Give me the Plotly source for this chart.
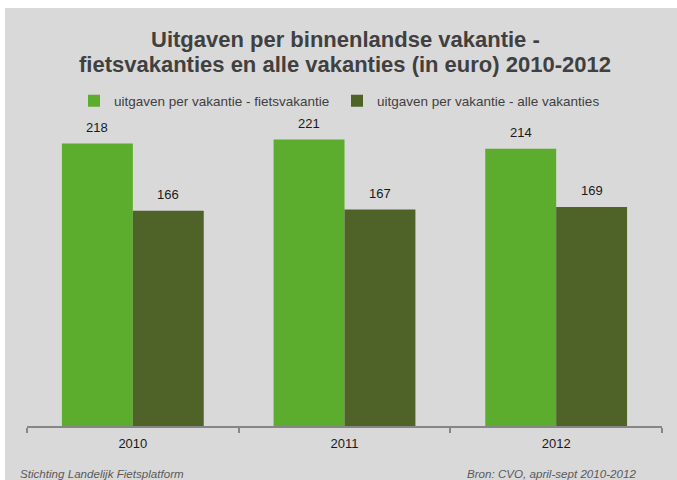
import plotly.graph_objects as go

years = ["2010", "2011", "2012"]
fiets = [218, 221, 214]
alle = [166, 167, 169]
series_names = ["uitgaven per vakantie - fietsvakantie", "uitgaven per vakantie - alle vakanties"]
title_lines = ["Uitgaven per binnenlandse vakantie -",
               "fietsvakanties en alle vakanties (in euro) 2010-2012"]
foot_left = "Stichting Landelijk Fietsplatform"
foot_right = "Bron: CVO, april-sept 2010-2012"
colors = ["#5cac2d", "#4f6228"]

W, H = 677, 480
L, R, T, B = 27, 15, 102, 54
pw, ph = W - L - R, H - T - B
FONT = "Liberation Sans, Arial, sans-serif"

def px2x(px):
    return (px - L) / pw

def py2y(py):
    return (H - B - py) / ph

bargap = 0.33
cat_px = pw / len(years)
bar_px = cat_px * (1 - bargap) / 2

fig = go.Figure()
for vals, name, col, sgn in [(fiets, series_names[0], colors[0], -1), (alle, series_names[1], colors[1], 1)]:
    fig.add_trace(go.Bar(x=years, y=vals, name=name, marker_color=col, marker_line_width=0,
                         hoverinfo="skip"))
    for i, v in enumerate(vals):
        # category axes take the category's serial number for annotations
        fig.add_annotation(x=i, y=v, text=str(v), showarrow=False,
                           xshift=sgn * bar_px / 2, yshift=16, yanchor="middle",
                           font=dict(size=13, color="#1a1a1a"))

fig.add_shape(type="rect", xref="paper", yref="paper",
              x0=px2x(5), x1=px2x(W + 2), y0=py2y(H + 2), y1=py2y(8),
              fillcolor="#d9d9d9", line_width=0, layer="below")

fig.update_layout(
    width=W, height=H,
    margin=dict(l=L, r=R, t=T, b=B),
    paper_bgcolor="white", plot_bgcolor="rgba(0,0,0,0)",
    font=dict(family=FONT, color="#404040"),
    barmode="group", bargap=bargap, bargroupgap=0,
    legend=dict(orientation="h", x=px2x(74), xanchor="left", y=py2y(101), yanchor="middle",
                font=dict(size=13.5, color="#404040"), bgcolor="rgba(0,0,0,0)",
                itemwidth=30, traceorder="normal", entrywidth=218, entrywidthmode="pixels"),
    showlegend=True,
    xaxis=dict(type="category", range=[-0.5, len(years) - 0.5], autorange=False,
               showline=True, linecolor="#868686", linewidth=1.5,
               ticks="outside", tickson="boundaries", tickcolor="#868686", ticklen=5, tickwidth=1.5,
               ticklabelstandoff=5,
               tickfont=dict(size=13, color="#1a1a1a"), showgrid=False, fixedrange=True),
    yaxis=dict(range=[0, 250], autorange=False, visible=False, showgrid=False, fixedrange=True),
)

for line, py in zip(title_lines, [39.5, 64.5]):
    fig.add_annotation(text="<b>" + line + "</b>", xref="paper", yref="paper",
                       x=px2x(345), y=py2y(py), xanchor="center", yanchor="middle", showarrow=False,
                       font=dict(size=22, color="#404040", family=FONT))

fig.add_annotation(text=foot_left, xref="paper", yref="paper", x=px2x(18), y=py2y(473),
                   xanchor="left", yanchor="middle", showarrow=False,
                   font=dict(size=11.6, color="#595959", style="italic"))
fig.add_annotation(text=foot_right, xref="paper", yref="paper", x=px2x(638), y=py2y(473),
                   xanchor="right", yanchor="middle", showarrow=False,
                   font=dict(size=11.6, color="#595959", style="italic"))

fig.write_html("out.html", config={"displayModeBar": False},
               post_script="document.body.style.margin='0px';")
